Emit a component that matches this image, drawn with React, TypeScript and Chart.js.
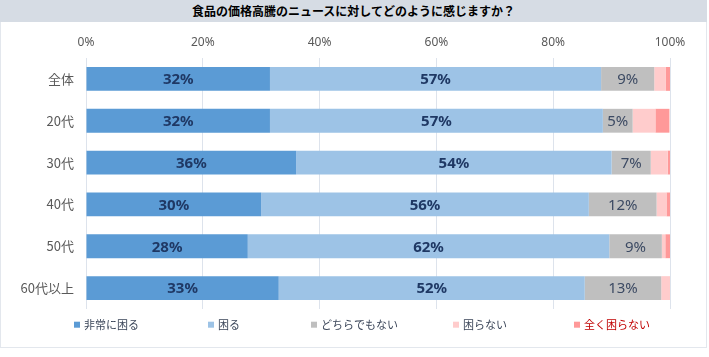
import React, { useEffect, useRef } from "react";
import { Chart, registerables } from "chart.js";

Chart.register(...registerables);

const TITLE = "食品の価格高騰のニュースに対してどのように感じますか？";
const categories = ["全体", "20代", "30代", "40代", "50代", "60代以上"];
const seriesNames = ["非常に困る", "困る", "どちらでもない", "困らない", "全く困らない"];
const veryTroubled = [31.5, 31.5, 36.0, 30.0, 27.7, 33.0];
const troubled = [56.7, 57.0, 54.0, 56.1, 61.9, 52.4];
const neutral = [9.1, 5.1, 6.7, 11.6, 9.0, 13.1];
const notTroubled = [2.0, 3.9, 2.9, 1.7, 0.6, 1.5];
const notAtAll = [0.7, 2.4, 0.5, 0.6, 0.8, 0.0];
const xTicks = [0, 20, 40, 60, 80, 100];

const COLORS = ["#5b9bd5", "#9dc3e6", "#bfbfbf", "#ffcccc", "#ff9999"];
const LEGEND_X = [73, 207, 310, 452, 573];
const LEGEND_TEXT = ["#3a4558", "#3a4558", "#3a4558", "#3a4558", "#c00000"];
const JP = '"Noto Sans CJK JP", "Noto Sans", sans-serif';

const labelPlugin = {
  id: "segLabels",
  afterDatasetsDraw(chart: any) {
    const ctx = chart.ctx;
    ctx.save();
    ctx.textAlign = "center";
    ctx.textBaseline = "middle";
    [0, 1, 2].forEach((di) => {
      const meta = chart.getDatasetMeta(di);
      const ds = chart.data.datasets[di];
      meta.data.forEach((el: any, i: number) => {
        const v = ds.data[i];
        if (!v) return;
        const cx = (el.x + el.base) / 2;
        if (di < 2) {
          ctx.font = 'bold 15px "Noto Sans", sans-serif';
          ctx.fillStyle = "#1f3864";
        } else {
          ctx.font = '15px "Noto Sans", sans-serif';
          ctx.fillStyle = "#3c4a63";
        }
        ctx.fillText(Math.round(v) + "%", cx, el.y + 1);
      });
    });
    ctx.restore();
  },
};

const legendPlugin = {
  id: "customLegend",
  afterDraw(chart: any) {
    const ctx = chart.ctx;
    ctx.save();
    const y = 302.7;
    ctx.font = "11px " + JP;
    ctx.textBaseline = "middle";
    ctx.textAlign = "left";
    chart.data.datasets.forEach((ds: any, i: number) => {
      const x = LEGEND_X[i];
      ctx.fillStyle = ds.backgroundColor;
      ctx.fillRect(x, y - 3, 6, 6);
      ctx.fillStyle = LEGEND_TEXT[i];
      ctx.fillText(ds.label, x + 10, y);
    });
    ctx.restore();
  },
};

export default function App() {
  const ref = useRef<HTMLCanvasElement>(null);
  useEffect(() => {
    const seriesData = [veryTroubled, troubled, neutral, notTroubled, notAtAll];
    const chart = new Chart(ref.current!, {
      type: "bar",
      data: {
        labels: categories,
        datasets: seriesNames.map((name, i) => ({
          label: name,
          data: seriesData[i],
          backgroundColor: COLORS[i],
          borderWidth: 0,
          barPercentage: 0.57,
          categoryPercentage: 1,
        })),
      },
      options: {
        indexAxis: "y",
        animation: false,
        responsive: false,
        maintainAspectRatio: false,
        layout: { padding: { left: 0, right: 36, top: 0, bottom: 38 } },
        plugins: {
          legend: { display: false },
          title: { display: false },
          tooltip: { enabled: false },
        },
        scales: {
          x: {
            position: "top",
            stacked: true,
            min: 0,
            max: 100,
            afterFit: (s: any) => {
              s.height = 36;
            },
            afterBuildTicks: (s: any) => {
              s.ticks = xTicks.map((v) => ({ value: v }));
            },
            ticks: {
              callback: (v: any) => v + "%",
              font: { size: 12, family: '"Noto Sans", sans-serif' },
              color: "#595959",
              padding: 8,
            },
            grid: { color: "#dde3ec", drawTicks: false, lineWidth: 1 },
            border: { display: false },
          },
          y: {
            stacked: true,
            afterFit: (s: any) => {
              s.width = 85;
            },
            ticks: {
              font: { size: 13, family: JP },
              color: "#595959",
              padding: 12,
            },
            grid: { display: false, drawTicks: false },
            border: { display: false },
          },
        },
      },
      plugins: [labelPlugin, legendPlugin],
    } as any);
    return () => chart.destroy();
  }, []);

  return (
    <div
      style={{
        position: "absolute",
        left: 0,
        top: 0,
        width: 707,
        height: 348,
        boxSizing: "border-box",
        border: "1px solid #e3e7ed",
        background: "#fff",
      }}
    >
      <div
        style={{
          position: "absolute",
          left: -1,
          top: -1,
          width: 707,
          height: 22,
          background: "#d6dce4",
          color: "#000",
          font: "bold 12px " + JP,
          lineHeight: "22px",
          textAlign: "center",
        }}
      >
        {TITLE}
      </div>
      <canvas
        ref={ref}
        width={705}
        height={325}
        style={{ position: "absolute", left: 0, top: 21, width: 705, height: 325 }}
      />
    </div>
  );
}
